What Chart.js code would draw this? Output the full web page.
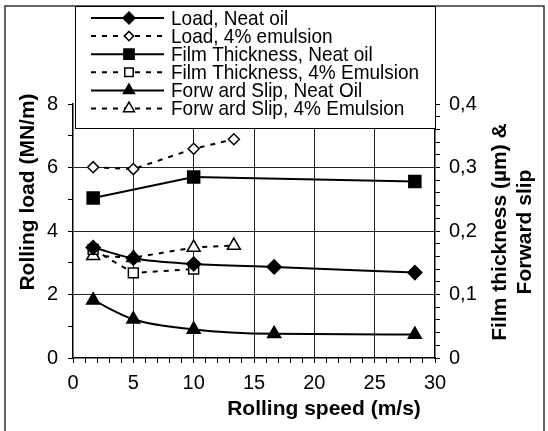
<!DOCTYPE html>
<html>
<head>
<meta charset="utf-8">
<script src="https://cdn.jsdelivr.net/npm/chart.js@4/dist/chart.umd.min.js"></script>
<style>
  html, body { margin: 0; padding: 0; background: #fff; }
  #wrap { position: relative; width: 548px; height: 431px; }
</style>
</head>
<body>
<div id="wrap"><canvas id="chart" width="548" height="431"></canvas></div>
<script>
// rolling speed (m/s) for each series
const speedLoadNeat = [1.67, 5, 10, 16.67, 28.33];
const loadNeat = [3.48, 3.14, 2.96, 2.87, 2.69];
const speedLoadEmul = [1.67, 5, 10, 13.33];
const loadEmul = [6.01, 5.95, 6.59, 6.89];
const speedFilmNeat = [1.67, 10, 28.33];
const filmNeat = [0.252, 0.285, 0.278];
const speedFilmEmul = [1.67, 5, 10];
const filmEmul = [0.171, 0.134, 0.140];
const speedSlipNeat = [1.67, 5, 10, 16.67, 28.33];
const slipNeat = [0.091, 0.061, 0.045, 0.038, 0.037];
const speedSlipEmul = [1.67, 5, 10, 13.33];
const slipEmul = [0.161, 0.158, 0.174, 0.177];

const seriesLabels = ['Load, Neat oil', 'Load, 4% emulsion', 'Film Thickness, Neat oil',
  'Film Thickness, 4% Emulsion', 'Forw ard Slip, Neat Oil', 'Forw ard Slip, 4% Emulsion'];
const xTitle = 'Rolling speed (m/s)';
const yTitle = 'Rolling load (MN/m)';
const y1Title = ['Film thickness (\u00b5m) &', 'Forward slip'];

const FONT = 'Arial, "Liberation Sans", sans-serif';
const DASH = [5, 6];

function pts(xs, ys) { return xs.map((x, i) => ({ x: x, y: ys[i] })); }

function makeSet(label, data, axis, style, filled, radius, dashed, smooth) {
  return {
    label: label, data: data, yAxisID: axis,
    borderColor: '#000', borderWidth: 2,
    borderDash: dashed ? DASH : [],
    pointStyle: style, pointRadius: radius, pointHoverRadius: radius,
    pointBackgroundColor: filled ? '#000' : '#fff',
    pointBorderColor: '#000', pointBorderWidth: 1.5,
    cubicInterpolationMode: smooth ? 'monotone' : 'default',
    tension: 0, fill: false,
    _filled: filled
  };
}

const datasets = [
  makeSet(seriesLabels[0], pts(speedLoadNeat, loadNeat), 'y', 'rectRot', true, 7, false, true),
  makeSet(seriesLabels[1], pts(speedLoadEmul, loadEmul), 'y', 'rectRot', false, 5.5, true, false),
  makeSet(seriesLabels[2], pts(speedFilmNeat, filmNeat), 'y1', 'rect', true, 8.5, false, false),
  makeSet(seriesLabels[3], pts(speedFilmEmul, filmEmul), 'y1', 'rect', false, 7, true, false),
  makeSet(seriesLabels[4], pts(speedSlipNeat, slipNeat), 'y1', 'triangle', true, 7.5, false, true),
  makeSet(seriesLabels[5], pts(speedSlipEmul, slipEmul), 'y1', 'triangle', false, 7.5, true, false)
];

function drawMarker(ctx, style, x, y, r, filled) {
  ctx.beginPath();
  if (style === 'rectRot') {
    ctx.moveTo(x, y - r); ctx.lineTo(x + r, y); ctx.lineTo(x, y + r); ctx.lineTo(x - r, y);
  } else if (style === 'rect') {
    const s = r * Math.SQRT1_2;
    ctx.rect(x - s, y - s, 2 * s, 2 * s);
  } else {
    ctx.moveTo(x, y - r); ctx.lineTo(x + r * 0.866, y + r / 2); ctx.lineTo(x - r * 0.866, y + r / 2);
  }
  ctx.closePath();
  ctx.fillStyle = filled ? '#000' : '#fff';
  ctx.fill();
  ctx.setLineDash([]);
  ctx.lineWidth = 1.5;
  ctx.strokeStyle = '#000';
  ctx.stroke();
}

const framePlugin = {
  id: 'frame',
  beforeDraw(chart) {
    const ctx = chart.ctx;
    ctx.save();
    ctx.fillStyle = '#fff';
    ctx.fillRect(0, 0, chart.width, chart.height);
    ctx.strokeStyle = '#333';
    ctx.lineWidth = 1.5;
    ctx.strokeRect(5, 6, 539, 432);
    ctx.restore();
  },
  afterDraw(chart) {
    const ctx = chart.ctx;
    ctx.save();
    ctx.fillStyle = '#000';
    ctx.font = 'bold 21px ' + FONT;
    ctx.textAlign = 'center';
    ctx.textBaseline = 'middle';
    ctx.fillText(xTitle, 324, 409);
    ctx.save();
    ctx.translate(28, 192);
    ctx.rotate(-Math.PI / 2);
    ctx.fillText(yTitle, 0, 0);
    ctx.restore();
    ctx.save();
    ctx.translate(500, 232);
    ctx.rotate(-Math.PI / 2);
    ctx.fillText(y1Title[0], 0, 0);
    ctx.fillText(y1Title[1], 0, 25);
    ctx.restore();

    // legend box, Excel style
    const bx = 75.5, by = 6.5, bw = 360, bh = 122;
    ctx.fillStyle = '#fff';
    ctx.fillRect(bx, by, bw, bh);
    ctx.strokeStyle = '#000';
    ctx.lineWidth = 1;
    ctx.setLineDash([]);
    ctx.strokeRect(bx, by, bw, bh);
    chart.data.datasets.forEach((ds, i) => {
      const y = 18 + i * 18.1;
      ctx.beginPath();
      ctx.setLineDash(ds.borderDash);
      ctx.lineWidth = 2;
      ctx.strokeStyle = '#000';
      ctx.moveTo(91, y);
      ctx.lineTo(164, y);
      ctx.stroke();
      drawMarker(ctx, ds.pointStyle, 129, y, ds.pointRadius * 0.85, ds._filled);
      ctx.save();
      ctx.translate(171, y + 1);
      ctx.scale(1, 1.1);
      ctx.fillStyle = '#000';
      ctx.font = '19px ' + FONT;
      ctx.textAlign = 'left';
      ctx.textBaseline = 'middle';
      ctx.fillText(ds.label, 0, 0);
      ctx.restore();
    });
    ctx.restore();
  }
};

const tickFont = { family: FONT, size: 20 };

new Chart(document.getElementById('chart'), {
  type: 'line',
  data: { datasets: datasets },
  options: {
    responsive: false,
    animation: false,
    layout: { padding: { top: 104, left: 0, right: 0, bottom: 0 } },
    plugins: { legend: { display: false }, tooltip: { enabled: false }, title: { display: false } },
    scales: {
      x: {
        type: 'linear', position: 'bottom', min: 0, max: 30,
        ticks: {
          stepSize: 1, autoSkip: false, maxRotation: 0, color: '#000', font: tickFont, padding: 8,
          callback: v => (v % 5 === 0 ? String(v) : '')
        },
        grid: {
          color: c => (c.tick && c.tick.value % 5 === 0 && c.tick.value > 0 && c.tick.value < 30) ? '#222' : 'rgba(0,0,0,0)',
          tickColor: '#000', tickLength: 5, lineWidth: 1
        },
        border: { color: '#000', width: 1.5 },
        afterFit: s => { s.height = 73; }
      },
      y: {
        position: 'left', min: 0, max: 8,
        ticks: {
          stepSize: 1, autoSkip: false, color: '#000', font: tickFont, padding: 10,
          callback: v => (v % 2 === 0 ? String(v) : '')
        },
        grid: {
          color: c => (c.tick && c.tick.value % 2 === 0 && c.tick.value > 0 && c.tick.value < 8) ? '#222' : 'rgba(0,0,0,0)',
          tickColor: '#000', tickLength: 5, lineWidth: 1
        },
        border: { color: '#000', width: 1.5 },
        afterFit: s => { s.width = 73; }
      },
      y1: {
        position: 'right', min: 0, max: 0.4,
        ticks: {
          stepSize: 0.02, autoSkip: false, color: '#000', font: tickFont, padding: 9,
          callback: v => {
            const k = Math.round(v * 100);
            if (k % 10 !== 0) return '';
            return k === 0 ? '0' : '0,' + (k / 10);
          }
        },
        grid: { drawOnChartArea: false, tickColor: '#000', tickLength: 5 },
        border: { color: '#000', width: 1.5 },
        afterFit: s => { s.width = 113; }
      }
    }
  },
  plugins: [framePlugin]
});
</script>
</body>
</html>
